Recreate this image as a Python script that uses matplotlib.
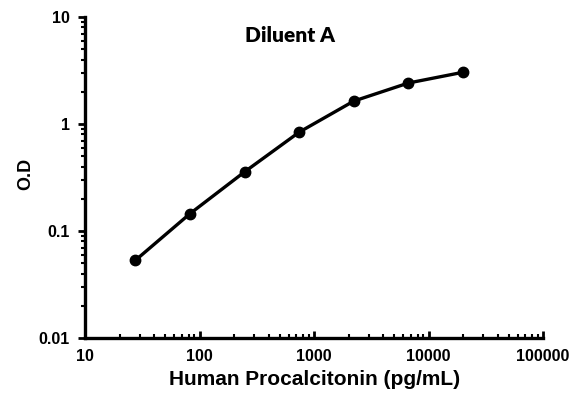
import numpy as np
import matplotlib.pyplot as plt

plt.rcParams['font.family'] = ['Liberation Sans', 'DejaVu Sans']
plt.rcParams['font.weight'] = 'bold'

conc = [27.4, 82.3, 247, 741, 2222, 6667, 20000]
od = [0.053, 0.145, 0.357, 0.84, 1.64, 2.42, 3.05]

fig = plt.figure(figsize=(5.79, 3.98), dpi=100)
ax = fig.add_axes([0.147, 0.151, 0.791, 0.806])

ax.plot(conc, od, color='black', lw=2.4, marker='o', ms=7.5)

ax.set_xscale('log')
ax.set_yscale('log')
ax.set_xlim(10, 100000)
ax.set_ylim(0.01, 10)
ax.set_xticks([10, 100, 1000, 10000, 100000])
ax.set_xticklabels(['10', '100', '1000', '10000', '100000'])
ax.set_yticks([0.01, 0.1, 1, 10])
ax.set_yticklabels(['0.01', '0.1', '1', '10'])

for s in ['top', 'right']:
    ax.spines[s].set_visible(False)
for s in ['left', 'bottom']:
    ax.spines[s].set_linewidth(2.4)

ax.tick_params(axis='y', which='major', direction='out', length=5, width=2, labelsize=11.5, pad=6)
ax.tick_params(axis='y', which='minor', direction='out', length=3, width=1.5)
ax.tick_params(axis='x', which='major', direction='in', length=5, width=2, labelsize=11.5, pad=8)
ax.tick_params(axis='x', which='minor', direction='in', length=3, width=1.5)

ax.set_xlabel('Human Procalcitonin (pg/mL)', fontsize=15, fontweight='bold', labelpad=4)
ax.set_ylabel('O.D', fontsize=13, fontweight='bold', labelpad=5)
ax.yaxis.set_label_coords(-0.112, 0.51)
ax.text(0.448, 0.972, 'Diluent A', transform=ax.transAxes, ha='center', va='top',
        fontsize=15, fontweight='heavy', family=['Lato', 'DejaVu Sans'])

fig.savefig('out.png', dpi=100)
